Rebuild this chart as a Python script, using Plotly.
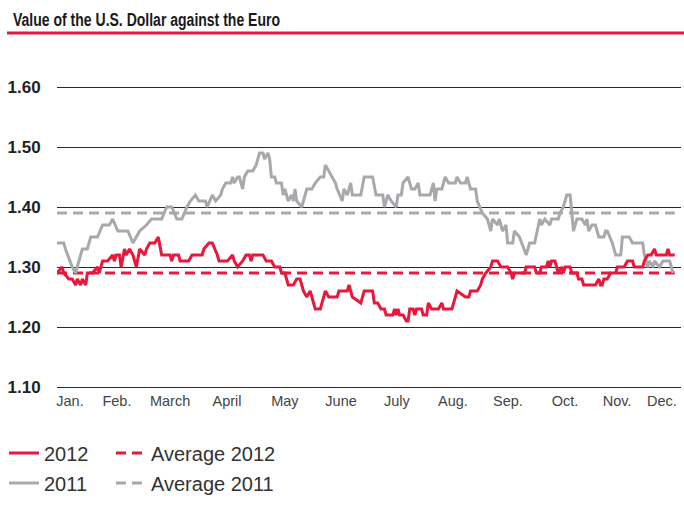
import plotly.graph_objects as go

# Day-of-year positions and exchange rates (USD per EUR)
days_2011 = [0, 4, 5, 9, 11, 12, 15, 18, 20, 24, 27, 31, 33, 36, 42, 45, 47, 49, 53, 56,
             62, 65, 68, 71, 74, 77, 79, 82, 84, 88, 89, 92, 94, 97, 98, 100, 103, 104, 105, 107,
             108, 110, 111, 113, 116, 118, 120, 122, 123, 125, 126, 127, 129, 130, 133, 134, 135, 137, 139, 140,
             141, 142, 145, 148, 151, 153, 156, 158, 159, 161, 163, 165, 166, 169, 170, 172, 174, 175, 180, 182,
             187, 189, 193, 194, 196, 198, 201, 202, 204, 205, 208, 210, 212, 214, 215, 218, 221, 223, 224, 225,
             228, 230, 232, 236, 237, 239, 242, 243, 245, 248, 249, 252, 255, 257, 258, 261, 262, 264, 266, 267,
             270, 271, 274, 278, 280, 283, 286, 287, 289, 292, 293, 297, 298, 300, 302, 304, 305, 306, 308, 311,
             313, 314, 315, 317, 319, 321, 324, 325, 326, 329, 331, 334, 335, 339, 341, 347, 348, 350, 351, 353,
             354, 357, 359, 363, 365]
rate_2011 = [1.34, 1.34, 1.33, 1.30, 1.29, 1.30, 1.33, 1.33, 1.35, 1.35, 1.37, 1.37, 1.38, 1.36, 1.36, 1.34, 1.35, 1.36, 1.37, 1.38,
             1.38, 1.40, 1.40, 1.38, 1.38, 1.40, 1.41, 1.42, 1.41, 1.41, 1.40, 1.42, 1.41, 1.42, 1.43, 1.44, 1.44, 1.45, 1.44, 1.45,
             1.45, 1.43, 1.45, 1.46, 1.46, 1.47, 1.49, 1.49, 1.48, 1.49, 1.48, 1.45, 1.45, 1.44, 1.44, 1.42, 1.43, 1.41, 1.42, 1.41,
             1.43, 1.41, 1.40, 1.43, 1.43, 1.44, 1.45, 1.45, 1.47, 1.46, 1.45, 1.44, 1.43, 1.41, 1.43, 1.42, 1.44, 1.42, 1.42, 1.45,
             1.45, 1.42, 1.42, 1.40, 1.42, 1.41, 1.40, 1.42, 1.42, 1.44, 1.45, 1.43, 1.43, 1.44, 1.42, 1.42, 1.42, 1.44, 1.41, 1.43,
             1.43, 1.45, 1.44, 1.44, 1.45, 1.44, 1.44, 1.45, 1.43, 1.43, 1.41, 1.39, 1.38, 1.36, 1.38, 1.37, 1.38, 1.36, 1.37, 1.34,
             1.34, 1.36, 1.35, 1.32, 1.34, 1.34, 1.38, 1.37, 1.38, 1.37, 1.38, 1.38, 1.39, 1.40, 1.42, 1.42, 1.39, 1.36, 1.38, 1.38,
             1.37, 1.38, 1.36, 1.37, 1.37, 1.35, 1.35, 1.36, 1.36, 1.34, 1.32, 1.32, 1.35, 1.35, 1.34, 1.34, 1.32, 1.30, 1.31, 1.30,
             1.31, 1.30, 1.31, 1.31, 1.29]

days_2012 = [0, 3, 4, 7, 9, 11, 12, 14, 15, 17, 18, 21, 24, 25, 27, 30, 33, 34, 35, 37,
             38, 40, 41, 43, 45, 47, 49, 52, 53, 55, 58, 60, 62, 67, 68, 69, 72, 73, 78, 80,
             86, 87, 90, 92, 95, 96, 101, 104, 105, 107, 110, 112, 114, 115, 116, 122, 124, 127, 129, 132,
             133, 135, 137, 140, 142, 144, 146, 148, 150, 151, 153, 156, 158, 159, 161, 166, 167, 172, 173, 175,
             180, 182, 187, 188, 190, 192, 194, 195, 199, 200, 201, 202, 203, 205, 207, 208, 209, 211, 212, 213,
             216, 217, 219, 220, 222, 226, 228, 229, 234, 235, 236, 237, 242, 244, 245, 249, 251, 252, 254, 257,
             258, 261, 263, 267, 269, 270, 271, 277, 278, 283, 284, 286, 287, 290, 291, 292, 293, 295, 296, 297,
             299, 300, 301, 304, 305, 308, 309, 311, 312, 319, 321, 322, 323, 324, 326, 328, 331, 332, 336, 338,
             341, 342, 347, 348, 350, 352, 354, 355, 361, 362, 363, 366]
rate_2012 = [1.29, 1.30, 1.29, 1.28, 1.28, 1.27, 1.28, 1.27, 1.28, 1.27, 1.29, 1.29, 1.30, 1.29, 1.31, 1.31, 1.32, 1.31, 1.32, 1.32,
             1.30, 1.33, 1.32, 1.33, 1.32, 1.30, 1.33, 1.32, 1.33, 1.34, 1.34, 1.35, 1.32, 1.32, 1.31, 1.32, 1.32, 1.31, 1.31, 1.32,
             1.32, 1.33, 1.34, 1.34, 1.32, 1.31, 1.31, 1.32, 1.31, 1.30, 1.31, 1.32, 1.32, 1.31, 1.32, 1.32, 1.31, 1.31, 1.30, 1.30,
             1.29, 1.29, 1.27, 1.27, 1.28, 1.28, 1.26, 1.25, 1.26, 1.25, 1.23, 1.23, 1.25, 1.26, 1.25, 1.25, 1.26, 1.26, 1.27, 1.25,
             1.24, 1.26, 1.26, 1.24, 1.24, 1.23, 1.23, 1.22, 1.22, 1.23, 1.22, 1.23, 1.22, 1.22, 1.21, 1.21, 1.23, 1.23, 1.22, 1.23,
             1.23, 1.22, 1.22, 1.24, 1.23, 1.23, 1.24, 1.23, 1.23, 1.24, 1.25, 1.26, 1.25, 1.25, 1.26, 1.26, 1.27, 1.28, 1.29, 1.30,
             1.31, 1.31, 1.30, 1.30, 1.29, 1.28, 1.29, 1.29, 1.30, 1.30, 1.29, 1.29, 1.30, 1.30, 1.31, 1.30, 1.31, 1.31, 1.30, 1.29,
             1.30, 1.29, 1.30, 1.30, 1.29, 1.29, 1.28, 1.28, 1.27, 1.27, 1.28, 1.27, 1.27, 1.28, 1.28, 1.29, 1.29, 1.30, 1.30, 1.31,
             1.31, 1.30, 1.30, 1.31, 1.32, 1.32, 1.33, 1.32, 1.32, 1.33, 1.32, 1.32]

average_days = [0, 366]
average_2011 = [1.39, 1.39]
average_2012 = [1.29, 1.29]

month_ticks = [7.7, 35.5, 67, 100.7, 135, 168.3, 201.4, 234.6, 267.2, 301, 331.8, 358.4]
month_labels = ["Jan.", "Feb.", "March", "April", "May", "June", "July", "Aug.", "Sep.", "Oct.", "Nov.", "Dec."]
rate_ticks = [1.10, 1.20, 1.30, 1.40, 1.50, 1.60]
rate_labels = ["1.10", "1.20", "1.30", "1.40", "1.50", "1.60"]

RED = "#E8173C"
GRAY = "#A8A9AD"
DASH = "10px,6px"
SANS = "Liberation Sans, Arial, Helvetica, sans-serif"

fig = go.Figure()
fig.add_trace(go.Scatter(x=average_days, y=average_2011, mode="lines", name="Average 2011",
                         line=dict(color=GRAY, width=3, dash=DASH), legend="legend4"))
fig.add_trace(go.Scatter(x=average_days, y=average_2012, mode="lines", name="Average 2012",
                         line=dict(color=RED, width=3, dash=DASH), legend="legend2"))
fig.add_trace(go.Scatter(x=days_2011, y=rate_2011, mode="lines", name="2011",
                         line=dict(color=GRAY, width=3), legend="legend3"))
fig.add_trace(go.Scatter(x=days_2012, y=rate_2012, mode="lines", name="2012",
                         line=dict(color=RED, width=3), legend="legend"))


def legend_box(left_px, mid_px):
    return dict(orientation="h", xref="container", yref="container",
                x=left_px / 684, y=1 - mid_px / 519, xanchor="left", yanchor="middle",
                font=dict(family=SANS, size=20, color="#333333"),
                bgcolor="rgba(0,0,0,0)", itemwidth=30, visible=True)


fig.update_layout(
    width=684, height=519,
    margin=dict(l=57, r=3, t=50, b=129),
    plot_bgcolor="white", paper_bgcolor="white",
    showlegend=True,
    title=dict(text="<b>Value of the U.S. Dollar against the Euro</b>",
               x=13 / 684, xref="container", xanchor="left",
               y=1 - 20 / 519, yref="container", yanchor="middle",
               font=dict(family=SANS, size=18, color="#1a1a1a")),
    xaxis=dict(range=[0, 369.7], tickvals=month_ticks, ticktext=month_labels,
               showgrid=False, zeroline=False, showline=False, ticks="",
               tickfont=dict(family=SANS, size=14.5, color="#444444")),
    yaxis=dict(range=[1.095, 1.66167], tickvals=rate_ticks, ticktext=rate_labels,
               showgrid=True, gridcolor="#2a2a2a", gridwidth=1, zeroline=False, showline=False,
               ticks="outside", ticklen=12, tickcolor="rgba(0,0,0,0)",
               tickfont=dict(family=SANS, size=17, color="#222222", weight="bold")),
    legend=legend_box(4, 453),
    legend2=legend_box(111, 453),
    legend3=legend_box(4, 483),
    legend4=legend_box(111, 483),
    shapes=[dict(type="line", xref="paper", yref="paper",
                 x0=(7 - 57) / 624, x1=(684 - 57) / 624,
                 y0=(390 - 33) / 340, y1=(390 - 33) / 340,
                 line=dict(color=RED, width=3))],
)

# Condensed headline: squeeze the bold title text to the headline width
condense_title = """
var t = document.querySelector('.gtitle');
if (t) { t.setAttribute('textLength', '267'); t.setAttribute('lengthAdjust', 'spacingAndGlyphs'); }
"""

fig.write_html("out.html", post_script=condense_title)
